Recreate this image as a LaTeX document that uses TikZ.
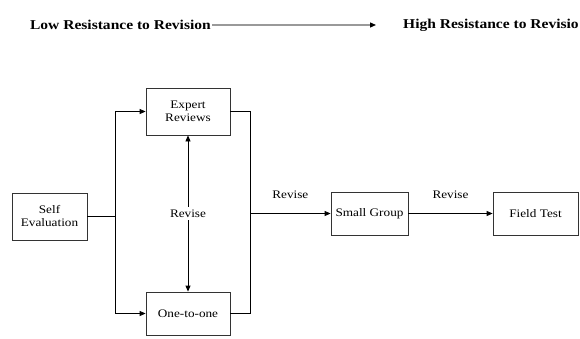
\documentclass[tikz,border=0pt]{standalone}
\usepackage{fontspec}
\setmainfont[FakeStretch=1.15]{Liberation Serif}
\usetikzlibrary{arrows.meta, positioning}

\begin{document}
\begin{tikzpicture}[
        x=1pt, y=1pt,
        font=\fontsize{11.5}{13}\selectfont,
        box/.style={draw, black!80, text=black, line width=0.8pt, align=center, inner sep=2pt},
        ar/.style={-{Triangle[length=6pt, width=5pt]}, line width=0.8pt},
        ln/.style={line width=0.8pt},
        lbl/.style={font=\fontsize{13.5}{15}\selectfont\bfseries}
    ]
        \useasboundingbox (0,0) rectangle (580,338);

        % scale of resistance
        \node[lbl, anchor=east, inner sep=1pt] (low)  at (212,313) {Low Resistance to Revision};
        \node[lbl, anchor=west, inner sep=1pt] (high) at (402,313) {High Resistance to Revisio};
        \coordinate (tip) at (376,313);
        \draw[black!40, line width=1.2pt, -{Triangle[length=6pt, width=5pt, black]}] (low.east) -- (tip);

        % stages
        \node[box, minimum width=75pt, minimum height=47pt] (self)   at (49.5,121.5) {Self\\Evaluation};
        \node[box, minimum width=84pt, minimum height=47pt] (expert) at (188,226.5)  {Expert\\Reviews};
        \node[box, minimum width=84pt, minimum height=43pt] (one)    at (188,24.5)   {One-to-one};
        \node[box, minimum width=77pt, minimum height=43pt] (small)  at (369.5,124.5) {Small Group};
        \node[box, minimum width=85pt, minimum height=43pt] (field)  at (535.5,124.5) {Field Test};

        % split and merge
        \coordinate (split) at (115,121.5);
        \coordinate (merge) at (250,124.5);
        \draw[ln] (self) -- (split);
        \draw[ar] (split) |- (expert);
        \draw[ar] (split) |- (one);
        \draw[ln] (expert) -| (merge);
        \draw[ln] (one) -| (merge);
        \draw[ar] (merge) -- node[above=11pt] (rev1) {Revise} (small);
        \draw[ar] (small) -- node[above=11pt] (rev2) {Revise} (field);
        \draw[ar, {Triangle[length=6pt, width=5pt]}-{Triangle[length=6pt, width=5pt]}]
            (expert) -- node[fill=white, inner sep=3pt] (rev0) {Revise} (one);
    \end{tikzpicture}
\end{document}
